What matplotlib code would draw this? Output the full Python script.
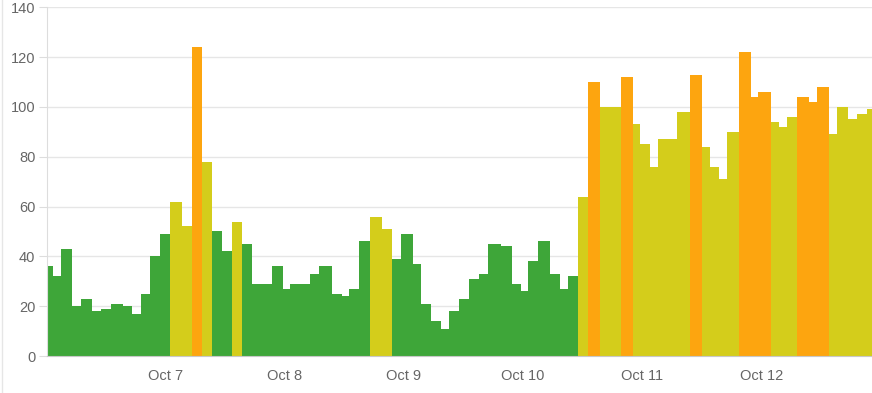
import matplotlib
matplotlib.use("Agg")
import matplotlib.pyplot as plt
from matplotlib.lines import Line2D
import numpy as np

# Bar start times, in hours relative to Oct 7 00:00 (last entry = end of last bar)
start_hours = [-23.80, -22.71, -21.10, -18.76, -17.07, -14.74, -13.05, -11.03, -8.62, -6.68,
               -4.99, -3.12, -1.11, 0.91, 3.38, 5.27, 7.41, 9.42, 11.44, 13.33,
               15.46, 17.48, 19.43, 21.38, 23.72, 25.07, 27.08, 29.09, 30.96, 33.46,
               35.47, 37.00, 39.02, 41.17, 43.53, 45.54, 47.35, 49.77, 51.44, 53.39,
               55.41, 57.08, 59.09, 61.10, 63.12, 64.99, 67.49, 69.82, 71.57, 72.92,
               75.06, 77.41, 79.42, 80.97, 83.15, 85.12, 87.48, 89.49, 91.70, 94.18,
               95.53, 97.54, 99.09, 100.97, 102.92, 105.60, 107.95, 109.62, 111.44, 113.11,
               115.52, 117.88, 119.35, 121.84, 123.58, 125.07, 127.20, 129.61, 131.11, 133.58,
               135.13, 137.47, 139.16, 141.17]
end_hour = 143.25

values = [36, 32, 43, 20, 23, 18, 19, 21, 20, 17,
          25, 40, 49, 62, 52, 124, 78, 50, 42, 54,
          45, 29, 29, 36, 27, 29, 29, 33, 36, 25,
          24, 27, 46, 56, 51, 39, 49, 37, 21, 14,
          11, 18, 23, 31, 33, 45, 44, 29, 26, 38,
          46, 33, 27, 32, 64, 110, 100, 100, 112, 93,
          85, 76, 87, 87, 98, 113, 84, 76, 71, 90,
          122, 104, 106, 94, 92, 96, 104, 102, 108, 89,
          100, 95, 97, 99]

day_ticks_hours = [0, 24, 48, 72, 96, 120]
day_labels = ["Oct 7", "Oct 8", "Oct 9", "Oct 10", "Oct 11", "Oct 12"]
y_ticks = [0, 20, 40, 60, 80, 100, 120, 140]

GREEN = "#3ea639"
YELLOW = "#d4cd1b"
ORANGE = "#fda50f"

def color_for(v):
    if v <= 50:
        return GREEN
    if v <= 100:
        return YELLOW
    return ORANGE

plt.rcParams['font.family'] = ['Liberation Sans', 'DejaVu Sans']

W, H = 872, 393
fig = plt.figure(figsize=(W / 100, H / 100), dpi=100)
ax = fig.add_axes([47.3 / W, (H - 356) / H, 1 - 47.3 / W, (356 - 7.3) / H])

starts = np.array(start_hours)
edges = np.append(starts, end_hour)
widths = np.diff(edges)
colors = [color_for(v) for v in values]
ax.bar(starts, values, width=widths, align='edge', color=colors, linewidth=0, zorder=2)

ax.set_xlim(-23.8, 142.25)
ax.set_ylim(0, 140)
ax.set_yticks(y_ticks)
ax.set_xticks(day_ticks_hours)
ax.set_xticklabels(day_labels)

ax.grid(axis='y', color='#e6e6e6', linewidth=1, zorder=0)
ax.grid(axis='x', visible=False)
for s in ['top', 'right']:
    ax.spines[s].set_visible(False)
ax.spines['left'].set_color('#dddddd')
ax.spines['bottom'].set_color('#c8c8c8')
ax.spines['bottom'].set_zorder(3)
ax.tick_params(axis='y', length=5.5, color='#dddddd', labelcolor='#666666', labelsize=10.5, pad=3)
ax.tick_params(axis='x', length=0, labelcolor='#666666', labelsize=10.5, pad=9)

fig.add_artist(Line2D([1.5 / W, 1.5 / W], [0, 1], transform=fig.transFigure, color='#e6e6e6', linewidth=1))

fig.savefig("out.png", dpi=100)
